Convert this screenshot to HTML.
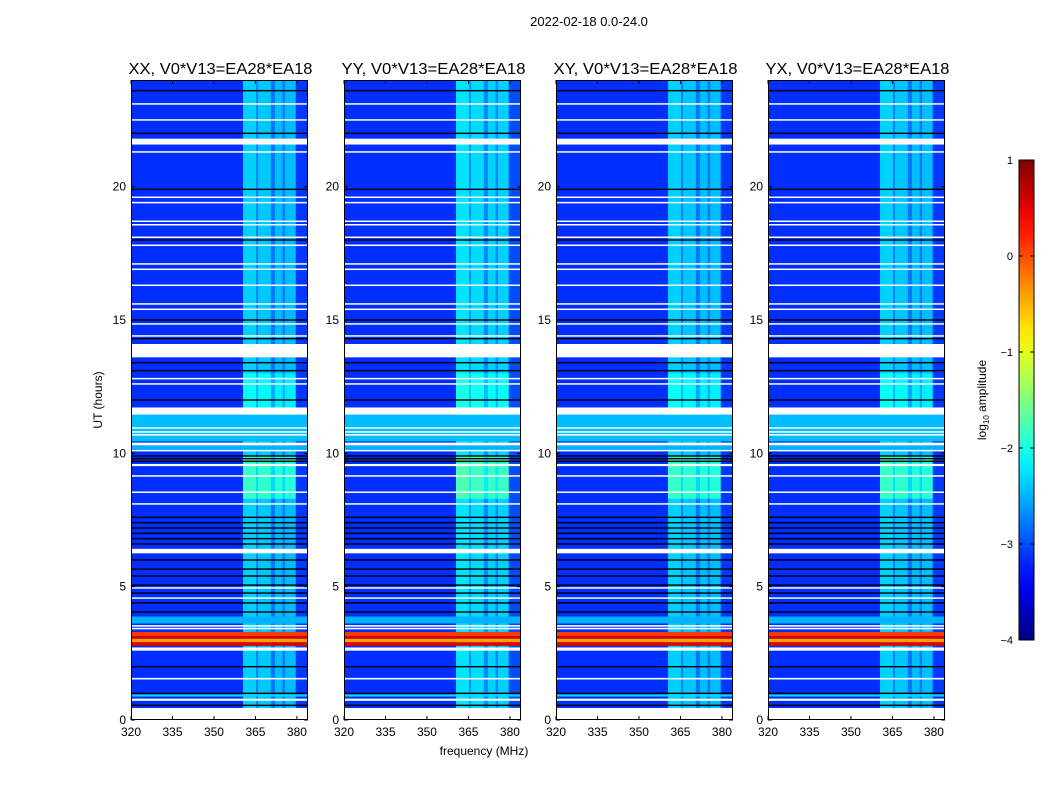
<!DOCTYPE html>
<html><head><meta charset="utf-8"><style>
html,body{margin:0;padding:0;background:#fff;}
#root{position:relative;width:1050px;height:800px;font-family:"Liberation Sans",sans-serif;}
svg text{font-family:"Liberation Sans",sans-serif;}
</style></head><body>
<div id="root">
<svg id="svg" width="1050" height="800" xmlns="http://www.w3.org/2000/svg"></svg>
</div>
<script>
// ---- data ----
const panelTitles = ["XX, V0*V13=EA28*EA18","YY, V0*V13=EA28*EA18","XY, V0*V13=EA28*EA18","YX, V0*V13=EA28*EA18"];
const panelLefts = [131, 344, 556, 768];
const xTicks = [320, 335, 350, 365, 380];
const yTicks = [0, 5, 10, 15, 20];
const cbTicks = [1, 0, -1, -2, -3, -4];
const baseLevel = -3.15;
// frequency sub-bands [startMHz, endMHz, log10 amplitude]
const bandStarts = [360.5, 365.3, 365.9, 370.6, 372.0, 374.9, 375.6, 379.6];
const bandEnds   = [365.3, 365.9, 370.6, 372.0, 374.9, 375.6, 379.6, 384.0];
const bandLevels = [-2.35, -2.75, -2.4, -2.8, -2.45, -2.8, -2.45, -3.1];
// per-panel band offset (YY brighter)
const panelBandOffset = [0, 0.1, 0, 0];
// flagged (white) time ranges [t0, t1] hours
const flagStart = [0.0, 0.3, 0.72, 1.52, 2.6, 3.4, 3.5, 4.55, 4.93, 6.25, 8.08, 8.52, 9.13, 9.52, 10.08, 10.3, 10.67, 10.78, 10.93, 11.45, 12.58, 12.78, 13.6, 14.38, 14.83, 15.38, 15.58, 16.28, 16.88, 17.08, 17.78, 18.08, 18.55, 18.68, 19.38, 19.58, 21.28, 21.58, 22.48, 23.08];
const flagEnd   = [0.3, 0.45, 0.8, 1.58, 2.72, 3.46, 3.56, 4.6, 4.98, 6.42, 8.13, 8.57, 9.18, 9.6, 10.13, 10.4, 10.72, 10.83, 10.98, 11.72, 12.63, 12.83, 14.1, 14.43, 14.88, 15.43, 15.63, 16.33, 16.93, 17.13, 17.83, 18.13, 18.6, 18.73, 19.43, 19.63, 21.33, 21.8, 22.53, 23.13];
// black (no data) thin rows, hours
const blackRows = [0.55, 1.0, 2.0, 4.05, 4.39, 4.76, 5.06, 5.4, 5.66, 6.0, 6.6, 6.8, 7.0, 7.2, 7.4, 7.6, 9.7, 9.8, 9.9, 12.0, 13.1, 13.4, 14.3, 15.0, 18.0, 19.9, 22.0, 23.6];
// full-width special rows [t0, t1, level]
const specStart = [0.88, 3.62, 2.78, 2.92, 3.05, 3.15, 10.45, 10.13];
const specEnd   = [0.96, 3.88, 2.92, 3.05, 3.15, 3.3, 11.45, 10.3];
const specLevel = [-2.3, -2.5, 0.5, -0.4, 0.6, 0.1, -2.45, -2.5];
// brighter band periods [t0, t1, extra]
const boostStart = [8.3, 11.7];
const boostEnd   = [9.9, 13.0];
const boostAmt   = [0.5, 0.25];

// ---- geometry ----
const PW = 177, PT = 80, PB = 720;
const fmin = 320, fmax = 384, tmax = 24;
const NS = "http://www.w3.org/2000/svg";
const svg = document.getElementById('svg');
function xs(f, left){ return left + (f - fmin) / (fmax - fmin) * PW; }
function ys(t){ return PB - t / tmax * (PB - PT); }
function jet(v){
  const x = Math.max(0, Math.min(1, (v + 4) / 5));
  const c = k => Math.round(255 * Math.max(0, Math.min(1, 1.5 - Math.abs(4 * x - k))));
  return `rgb(${c(3)},${c(2)},${c(1)})`;
}
function mk(tag, attrs, parent){
  const e = document.createElementNS(NS, tag);
  for (const k in attrs) e.setAttribute(k, attrs[k]);
  (parent || svg).appendChild(e);
  return e;
}
function txt(s, attrs, parent){ const e = mk('text', attrs, parent); e.textContent = s; return e; }

const sup = txt("2022-02-18 0.0-24.0", {x:589, y:26, 'font-size':13, 'text-anchor':'middle'});



panelLefts.forEach((L, p) => {
  const g = mk('g', {});
  
  
  const bg = mk('rect', {x:L, y:PT, width:PW, height:PB-PT, fill:jet(baseLevel)}, g);
  
  
  const segs = [[0, tmax, 0]];
  for (let i = 0; i < boostStart.length; i++) segs.push([boostStart[i], boostEnd[i], boostAmt[i]]);
  segs.forEach(s => {
    for (let b = 0; b < bandStarts.length; b++) {
      const lv = bandLevels[b] + panelBandOffset[p] + (b < bandStarts.length - 1 ? s[2] : 0);
      const r = mk('rect', {x:xs(bandStarts[b], L), y:ys(s[1]), width:xs(bandEnds[b], L)-xs(bandStarts[b], L), height:ys(s[0])-ys(s[1]), fill:jet(lv)}, g);
      
      
    }
  });
  for (let i = 0; i < specStart.length; i++) {
    const r = mk('rect', {x:L, y:ys(specEnd[i]), width:PW, height:ys(specStart[i])-ys(specEnd[i]), fill:jet(specLevel[i])}, g);
    
    
  }
  blackRows.forEach(t => {
    const r = mk('rect', {x:L, y:ys(t)-0.7, width:PW, height:1.4, fill:'#000'}, g);
    
    
  });
  for (let i = 0; i < flagStart.length; i++) {
    const h = Math.max(1.5, ys(flagStart[i]) - ys(flagEnd[i]));
    const r = mk('rect', {x:L, y:ys(flagEnd[i]), width:PW, height:h, fill:'#fff'}, g);
    
    
  }
  const fr = mk('rect', {x:L+0.5, y:PT+0.5, width:PW-1, height:PB-PT-1, fill:'none', stroke:'#000', 'stroke-width':1}, g);
  
  
  xTicks.forEach(f => {
    const x = xs(f, L);
    mk('line', {x1:x, x2:x, y1:PB, y2:PB-4, stroke:'#000'}, g);
    mk('line', {x1:x, x2:x, y1:PT, y2:PT+4, stroke:'#000'}, g);
    const t = txt(String(f), {x:x, y:PB+16, 'font-size':12, 'text-anchor':'middle'}, g);
    
    
  });
  yTicks.forEach(v => {
    const y = ys(v);
    mk('line', {x1:L, x2:L+4, y1:y, y2:y, stroke:'#000'}, g);
    mk('line', {x1:L+PW, x2:L+PW-4, y1:y, y2:y, stroke:'#000'}, g);
    const t = txt(String(v), {x:L-5, y:y+4, 'font-size':12, 'text-anchor':'end'}, g);
    
    
  });
  const tt = txt(panelTitles[p], {x:L+PW/2+1, y:74, 'font-size':16, 'text-anchor':'middle', textLength:184, lengthAdjust:'spacingAndGlyphs'}, g);
  
  
});

const xl = txt("frequency (MHz)", {x:484, y:755, 'font-size':12, 'text-anchor':'middle'});


const yl = txt("UT (hours)", {x:0, y:0, 'font-size':12, 'text-anchor':'middle', transform:'translate(102,400) rotate(-90)'});



const CX = 1019, CW = 15, CT = 160, CB = 640;
const defs = mk('defs', {});
const grad = mk('linearGradient', {id:'jetg', x1:0, y1:1, x2:0, y2:0}, defs);
for (let i = 0; i <= 20; i++) mk('stop', {offset:(i/20), 'stop-color':jet(-4 + 5*i/20)}, grad);
const cb = mk('rect', {x:CX, y:CT, width:CW, height:CB-CT, fill:'url(#jetg)', stroke:'#000', 'stroke-width':1});


cbTicks.forEach(v => {
  const y = CB - (v + 4) / 5 * (CB - CT);
  mk('line', {x1:CX, x2:CX+4, y1:y, y2:y, stroke:'#000'});
  mk('line', {x1:CX+CW, x2:CX+CW-4, y1:y, y2:y, stroke:'#000'});
  const t = txt(v < 0 ? '\u2212' + (-v) : String(v), {x:CX-6, y:y+4, 'font-size':11, 'text-anchor':'end'});
  
  
});
const cl = mk('text', {x:0, y:0, 'font-size':12, 'text-anchor':'middle', transform:'translate(986,400) rotate(-90)'});
cl.innerHTML = 'log<tspan font-size="8" dy="3">10</tspan><tspan dy="-3"> amplitude</tspan>';


</script>
</body></html>
